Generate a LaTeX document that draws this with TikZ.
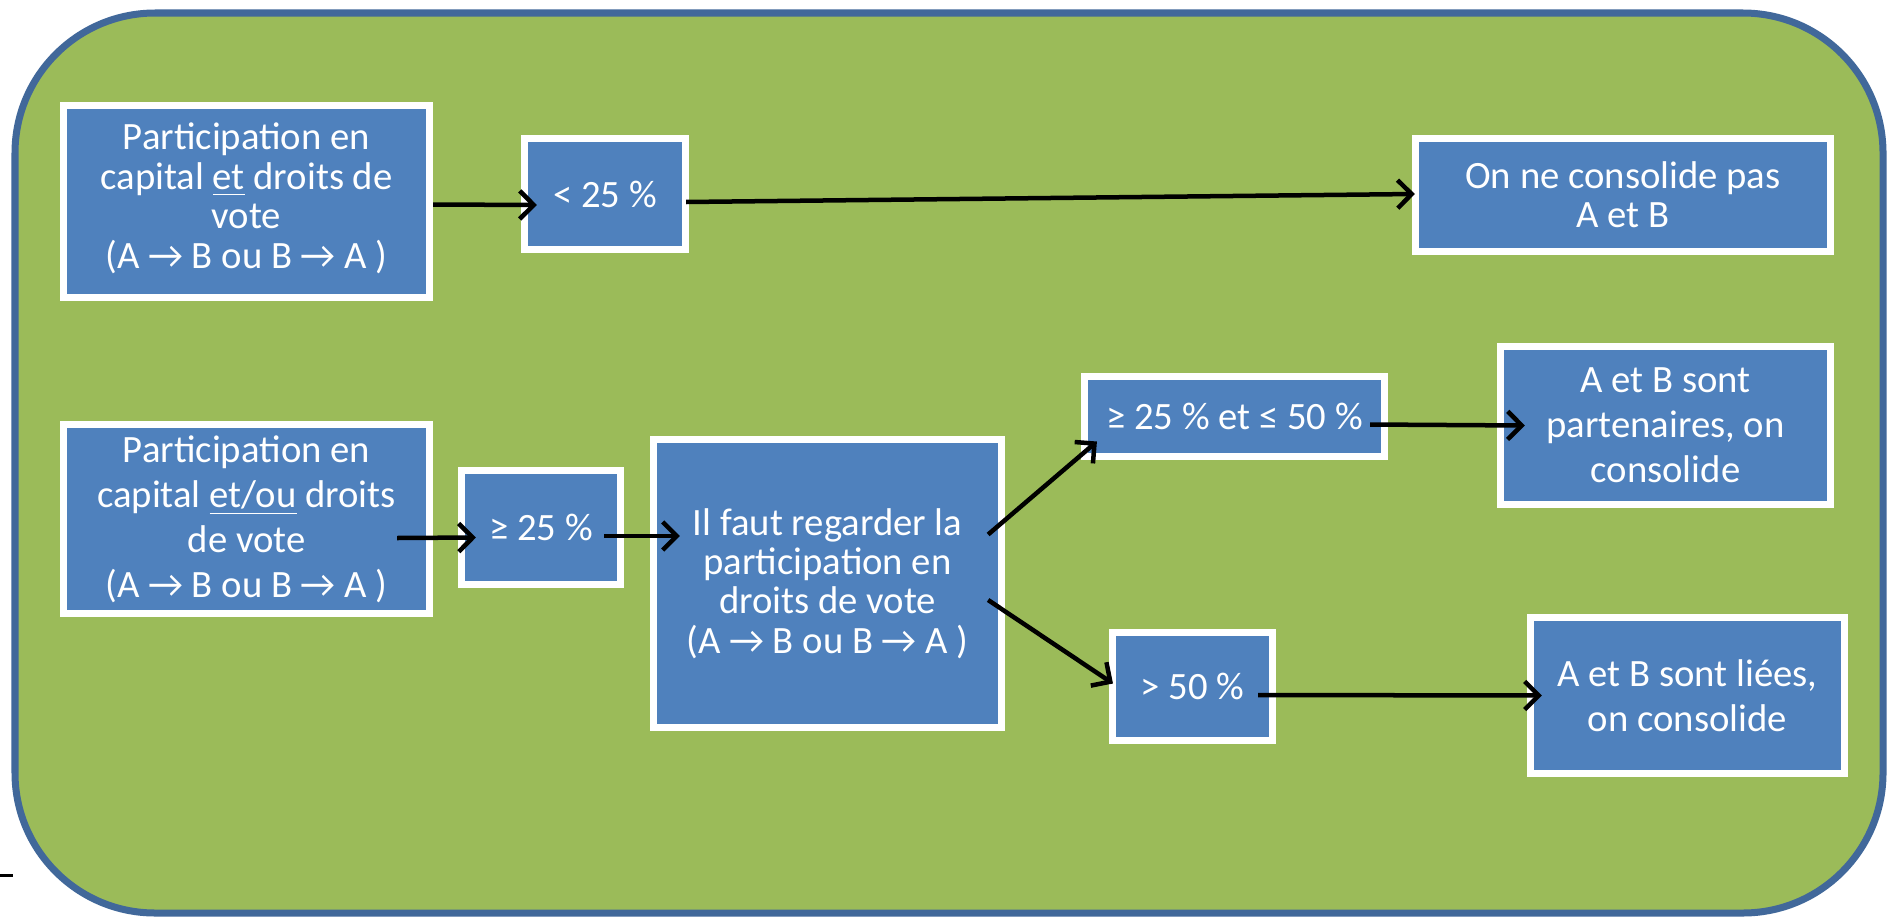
\documentclass[tikz,border=0pt]{standalone}
\usepackage{fontspec}
\setmainfont{Carlito}
\usetikzlibrary{arrows.meta,calc}
\definecolor{leafgreen}{HTML}{9BBB59}
\definecolor{boxblue}{HTML}{4F81BD}
\definecolor{rimblue}{HTML}{41689A}
\tikzset{
  box/.style={draw=white,line width=0.075cm,fill=boxblue,text=white,align=center,
    inner sep=0pt,font=\fontsize{11pt}{11.2pt}\selectfont},
  loose/.style={font=\fontsize{11pt}{12.8pt}\selectfont},
  flow/.style={draw=black,line width=0.045cm,-{Straight Barb[length=4pt,width=8pt,line width=0.045cm]}}
}
\begin{document}
\begin{tikzpicture}[x=0.01cm,y=-0.01cm]
  \useasboundingbox (0,0) rectangle (1888,918);
  \fill[white] (0,0) rectangle (1888,918);
  \draw[rimblue,fill=leafgreen,line width=0.07cm,rounded corners=1.4cm] (15,13) rectangle (1883,913);
  \draw[black,line width=0.03cm] (0,875) -- (13,875);
  \draw
    (246.5,201.5) node[box,minimum width=3.655cm,minimum height=1.915cm] (cap1)
      {\raisebox{0.11cm}{\begin{tabular}{@{}c@{}}Participation en\\capital \underline{et} droits de\\vote\\(A \char"2192{} B ou B \char"2192{} A )\end{tabular}}}
    (605,194) node[box,minimum width=1.605cm,minimum height=1.105cm] (lt25) {< 25 \%}
    (1623,195) node[box,minimum width=4.145cm,minimum height=1.125cm] (nocons)
      {On ne consolide pas\\A et B}
    (246.5,519) node[box,loose,minimum width=3.655cm,minimum height=1.885cm] (cap2)
      {Participation en\\capital \underline{et/ou} droits\\de vote\\(A \char"2192{} B ou B \char"2192{} A )}
    (541,527.5) node[box,minimum width=1.585cm,minimum height=1.135cm] (ge25) {\char"2265{} 25 \%}
    (827.5,583.5) node[box,minimum width=3.475cm,minimum height=2.875cm] (regard)
      {Il faut regarder la\\participation en\\droits de vote\\(A \char"2192{} B ou B \char"2192{} A )}
    (1234.5,416.5) node[box,minimum width=2.995cm,minimum height=0.795cm] (mid)
      {\char"2265{} 25 \% et \char"2264{} 50 \%}
    (1665.5,425.5) node[box,loose,minimum width=3.295cm,minimum height=1.575cm] (partner)
      {A et B sont\\partenaires, on\\consolide}
    (1192.5,686.5) node[box,minimum width=1.595cm,minimum height=1.075cm] (gt50) {> 50 \%}
    (1687.5,695.5) node[box,loose,minimum width=3.135cm,minimum height=1.555cm] (linked)
      {A et B sont liées,\\on consolide};
  \begin{scope}[flow]
    \draw ($(cap1.east)+(0,3)$) -- ($(lt25.west)+(16,11)$);
    \draw ($(lt25.east)+(-3,8)$) -- ($(nocons.west)+(3,-1)$);
    \draw ($(cap2.east)+(-36,19)$) -- ($(ge25.west)+(18,10)$);
    \draw ($(ge25.east)+(-20,8.5)$) -- ($(regard.west)+(30,-47.5)$);
    \draw ($(regard.east)+(-17,-49)$) -- ($(mid.west)+(16,25)$);
    \draw ($(regard.east)+(-17,16.5)$) -- ($(gt50.west)+(4,-3)$);
    \draw ($(mid.east)+(-18,8)$) -- ($(partner.west)+(28,0)$);
    \draw ($(gt50.east)+(-18,8.5)$) -- ($(linked.west)+(15,0)$);
  \end{scope}
\end{tikzpicture}
\end{document}
